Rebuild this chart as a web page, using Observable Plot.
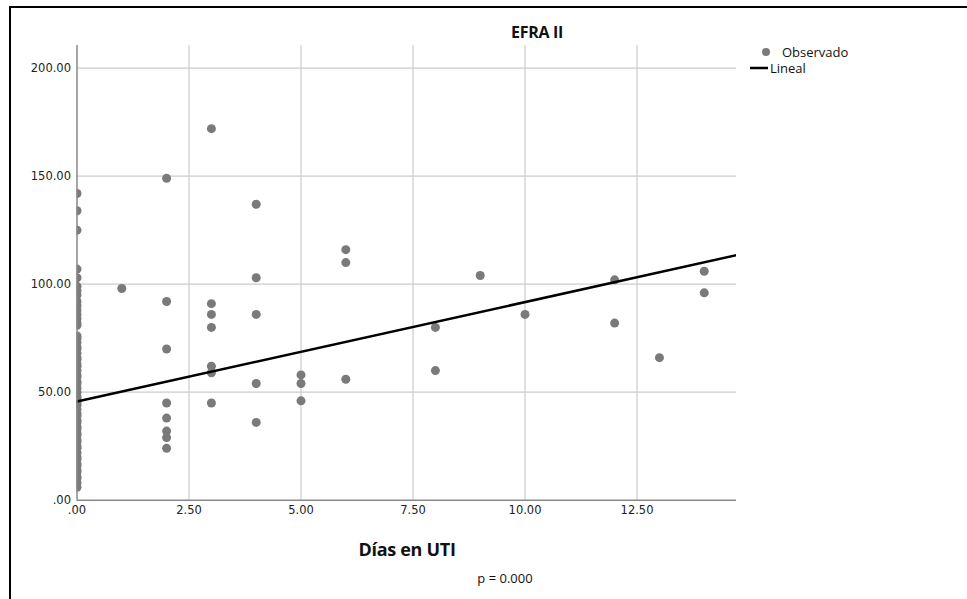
<!DOCTYPE html>
<html>
<head>
<meta charset="utf-8">
<script src="https://cdn.jsdelivr.net/npm/d3@7"></script>
<script src="https://cdn.jsdelivr.net/npm/@observablehq/plot@0.6"></script>
<style>
  html, body { margin: 0; padding: 0; background: #fff; overflow: hidden; width: 967px; height: 599px; }
  #wrap { position: relative; width: 967px; height: 599px; }
  #frame { position: absolute; left: 9px; top: 6px; width: 1000px; height: 700px; border-left: 2.5px solid #000; border-top: 2.5px solid #000; }
  #chart { position: absolute; left: 0; top: 0; }
  .t { position: absolute; font-family: "Open Sans", sans-serif; color: #111; white-space: nowrap; }
  #title { left: 537px; top: 21px; transform: translateX(-50%); font-weight: bold; font-size: 16px; letter-spacing: -0.3px; }
  #xlabel { left: 407px; top: 537px; transform: translateX(-50%); font-weight: bold; font-size: 18px; letter-spacing: -0.3px; }
  #ptext { left: 505px; top: 569px; transform: translateX(-50%); font-size: 13px; }
  .leg { position: absolute; font-family: "Open Sans", sans-serif; font-size: 13px; line-height: 14px; color: #111; white-space: nowrap; }
</style>
</head>
<body>
<div id="wrap">
  <div id="frame"></div>
  <div id="chart"></div>
  <div class="t" id="title">EFRA II</div>
  <div class="t" id="xlabel">Días en UTI</div>
  <div class="t" id="ptext">p = 0.000</div>
  <svg class="leg" style="left:745px;top:42px;" width="30" height="34">
    <circle cx="21" cy="10" r="4" fill="#7a7a7a"></circle>
    <line x1="5" x2="23" y1="26" y2="26" stroke="#000" stroke-width="2.5"></line>
  </svg>
  <div class="leg" style="left:782px;top:45px;">Observado</div>
  <div class="leg" style="left:770px;top:61px;">Lineal</div>
</div>
<script>
// Observed data: Días en UTI (x) vs EFRA II (y)
const dias0 = [142, 134, 125, 107, 103, 99, 97, 95, 92, 90, 88, 86, 84, 82, 81, 76, 75, 73, 71, 70, 68, 66, 65, 63, 62, 60, 58, 57, 55, 54, 52, 50, 48, 47, 45, 44, 42, 40, 39, 37, 36, 34, 33, 31, 30, 28, 27, 25, 24, 22, 20, 19, 17, 16, 14, 13, 11, 10, 8, 6];
const dias1 = [98];
const dias2 = [149, 92, 70, 45, 38, 32, 29, 24];
const dias3 = [172, 91, 86, 80, 62, 59, 45];
const dias4 = [137, 103, 86, 54, 36];
const dias5 = [58, 54, 46];
const dias6 = [116, 110, 56];
const dias8 = [80, 60];
const dias9 = [104];
const dias10 = [86];
const dias12 = [102, 82];
const dias13 = [66];
const dias14 = [106, 96];

// Linear fit (Lineal)
const fitIntercept = 45.7;
const fitSlope = 4.6;

const xTicks = [0, 2.5, 5, 7.5, 10, 12.5];
const yTicks = [0, 50, 100, 150, 200];
const xDomain = [0, 14.72];
const yDomain = [0, 210.5];

const groups = [[0, dias0], [1, dias1], [2, dias2], [3, dias3], [4, dias4], [5, dias5], [6, dias6],
  [8, dias8], [9, dias9], [10, dias10], [12, dias12], [13, dias13], [14, dias14]];
const points = groups.flatMap(([x, ys]) => ys.map(y => ({x, y})));
const fitLine = xDomain.map(x => ({x, y: fitIntercept + fitSlope * x}));

const fmt = d => d === 0 ? ".00" : d.toFixed(2);

const chart = Plot.plot({
  width: 967,
  height: 540,
  marginLeft: 76.5,
  marginRight: 231,
  marginTop: 45,
  marginBottom: 40.3,
  style: { fontFamily: "DejaVu Sans, sans-serif", fontSize: "11.5px", color: "#222", background: "transparent" },
  x: { domain: xDomain, ticks: xTicks, tickFormat: fmt, label: null },
  y: { domain: yDomain, ticks: yTicks, tickFormat: fmt, label: null },
  marks: [
    Plot.gridX(xTicks.filter(d => d > 0), { stroke: "#cccccc", strokeOpacity: 1, strokeWidth: 1.2 }),
    Plot.gridY(yTicks.filter(d => d > 0), { stroke: "#cccccc", strokeOpacity: 1, strokeWidth: 1.2 }),
    Plot.dot(points, { x: "x", y: "y", r: 4.5, fill: "#7a7a7a", stroke: "none", clip: "frame" }),
    Plot.line(fitLine, { x: "x", y: "y", stroke: "#000", strokeWidth: 2.5, clip: "frame" }),
    Plot.ruleX([0], { stroke: "#888", strokeWidth: 1.5 }),
    Plot.ruleY([0], { stroke: "#888", strokeWidth: 1.5 }),
    Plot.axisX({ ticks: xTicks, tickFormat: fmt, tickSize: 0, tickPadding: 6, label: null }),
    Plot.axisY({ ticks: yTicks, tickFormat: fmt, tickSize: 0, tickPadding: 6, label: null })
  ]
});
document.getElementById("chart").appendChild(chart);
</script>
</body>
</html>
